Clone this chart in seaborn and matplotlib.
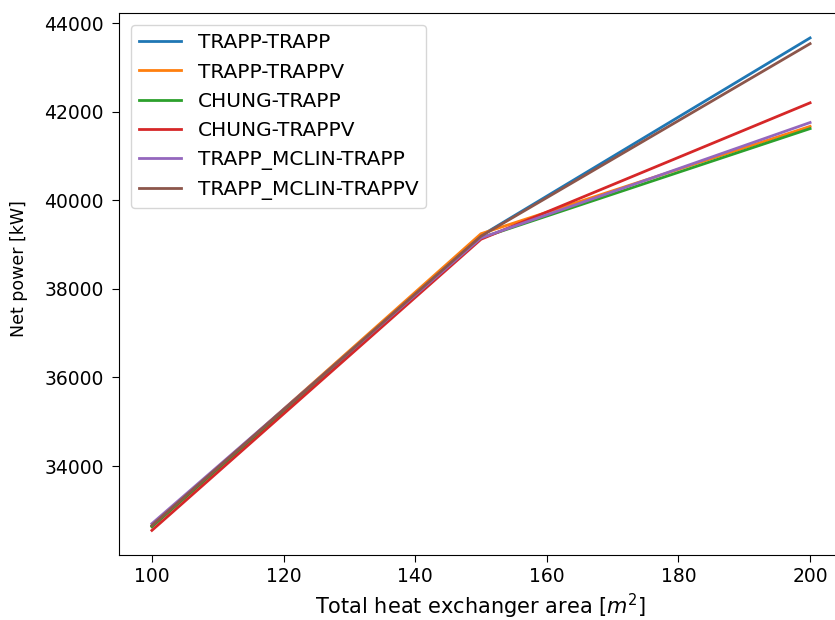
import matplotlib
matplotlib.use("Agg")
import matplotlib.pyplot as plt
import seaborn as sns
import pandas as pd

area = [100, 150, 200]
series_names = ["TRAPP-TRAPP", "TRAPP-TRAPPV", "CHUNG-TRAPP", "CHUNG-TRAPPV",
                "TRAPP_MCLIN-TRAPP", "TRAPP_MCLIN-TRAPPV"]
trapp_trapp = [32650, 39200, 43665]
trapp_trappv = [32640, 39245, 41668]
chung_trapp = [32630, 39150, 41618]
chung_trappv = [32548, 39120, 42200]
mclin_trapp = [32700, 39150, 41755]
mclin_trappv = [32660, 39190, 43535]
colors = ["#1f77b4", "#ff7f0e", "#2ca02c", "#d62728", "#9467bd", "#8c564b"]
x_ticks = [100, 120, 140, 160, 180, 200]
y_ticks = [34000, 36000, 38000, 40000, 42000, 44000]

values = [trapp_trapp, trapp_trappv, chung_trapp, chung_trappv, mclin_trapp, mclin_trappv]
rows = []
for name, vals in zip(series_names, values):
    for a, v in zip(area, vals):
        rows.append({"area": a, "power": v, "series": name})
df = pd.DataFrame(rows)

plt.rcParams["font.family"] = ["DejaVu Sans"]
fig = plt.figure(figsize=(8.35, 6.2), dpi=100)
ax = fig.add_axes([119 / 835, 65 / 620, 724 / 835, (555 - 13.3) / 620])
sns.lineplot(data=df, x="area", y="power", hue="series", hue_order=series_names,
             palette=colors, linewidth=2, ax=ax, legend=True)
handles, labels = ax.get_legend_handles_labels()
ax.legend(handles, labels, loc="upper left", fontsize=14.5, labelspacing=0.5,
          handlelength=2.1, borderaxespad=0.6)
ax.set_xlabel("Total heat exchanger area [$m^2$]", fontsize=15, labelpad=4)
ax.set_ylabel("Net power [kW]", fontsize=12.5)
ax.yaxis.set_label_coords(-0.126, 0.528)
ax.set_xticks(x_ticks)
ax.set_yticks(y_ticks)
ax.tick_params(labelsize=13.5, length=5)
ax.tick_params(axis="y", pad=6)
fig.savefig("out.png", dpi=100)
